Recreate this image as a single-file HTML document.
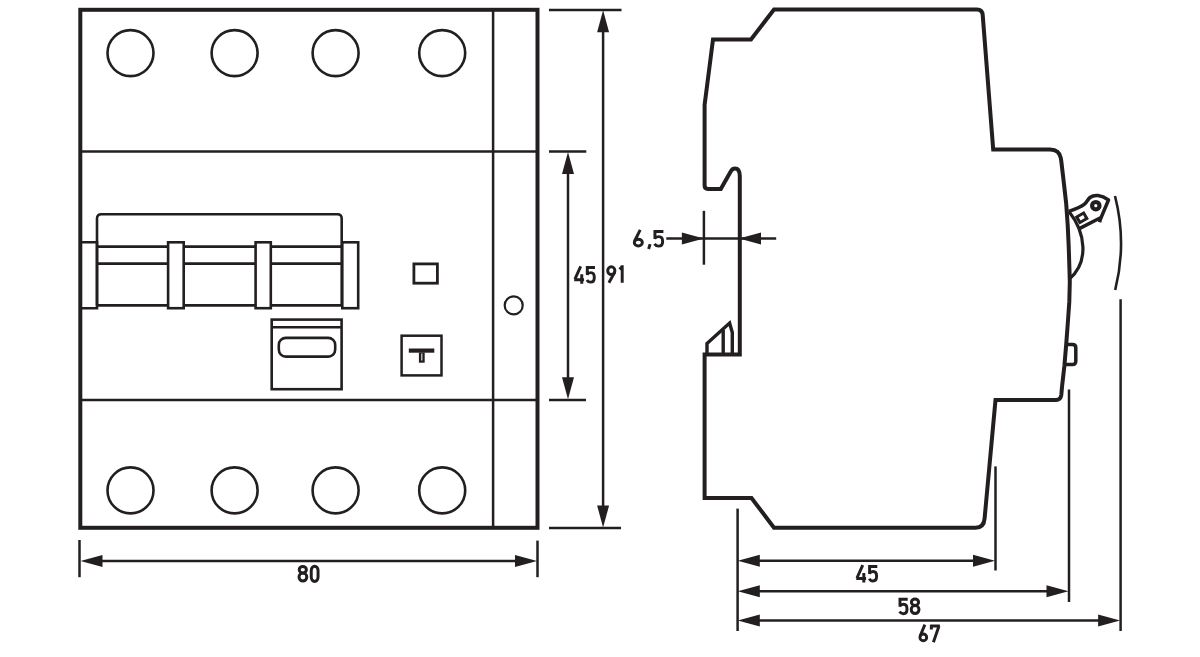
<!DOCTYPE html>
<html><head><meta charset="utf-8"><style>
html,body{margin:0;padding:0;background:#fff;width:1200px;height:657px;overflow:hidden}
svg{display:block} .gl *{vector-effect:non-scaling-stroke}
text{font-family:"Liberation Sans",sans-serif;font-weight:bold;fill:#231f20;stroke:none}
</style></head><body>
<svg width="1200" height="657" viewBox="0 0 1200 657">
<g fill="none" stroke="#231f20" stroke-linecap="butt">
<rect x="80.3" y="9.8" width="457.2" height="518" stroke-width="4"/>
<line x1="493.1" y1="10" x2="493.1" y2="527" stroke-width="2.5"/>
<line x1="80" y1="151.5" x2="537" y2="151.5" stroke-width="2.5"/>
<line x1="80" y1="400.1" x2="537" y2="400.1" stroke-width="2.5"/>
<circle cx="130.5" cy="53.1" r="23" stroke-width="2.6"/>
<circle cx="130.5" cy="490.4" r="23" stroke-width="2.6"/>
<circle cx="234.6" cy="53.1" r="23" stroke-width="2.6"/>
<circle cx="234.6" cy="490.4" r="23" stroke-width="2.6"/>
<circle cx="335.6" cy="53.1" r="23" stroke-width="2.6"/>
<circle cx="335.6" cy="490.4" r="23" stroke-width="2.6"/>
<circle cx="442.2" cy="53.1" r="23" stroke-width="2.6"/>
<circle cx="442.2" cy="490.4" r="23" stroke-width="2.6"/>
<path d="M97,305.4 V218.5 Q97,214.2 101.3,214.2 H337.4 Q341.7,214.2 341.7,218.5 V305.4" stroke-width="2.6"/>
<line x1="97" y1="246.6" x2="341.7" y2="246.6" stroke-width="2.6"/>
<line x1="97" y1="263.6" x2="341.7" y2="263.6" stroke-width="2.6"/>
<line x1="97" y1="305.4" x2="341.7" y2="305.4" stroke-width="2.6"/>
<path d="M80,242.3 H97 V308.2 H80" stroke-width="2.6"/>
<rect x="168.1" y="242.3" width="15.6" height="65.9" stroke-width="2.6" fill="#fff"/>
<rect x="255.6" y="242.3" width="15.2" height="65.9" stroke-width="2.6" fill="#fff"/>
<rect x="342.3" y="242.3" width="15.9" height="65.9" stroke-width="2.6" fill="#fff"/>
<rect x="271.7" y="319.6" width="69.9" height="69.6" stroke-width="2.6"/>
<line x1="271.7" y1="327.2" x2="341.6" y2="327.2" stroke-width="2.4"/>
<rect x="278.8" y="337.9" width="56.4" height="18.7" rx="7" stroke-width="2.6"/>
<rect x="413.9" y="263.9" width="23.5" height="19.3" stroke-width="2.8"/>
<rect x="401.6" y="335.7" width="39.9" height="39.7" stroke-width="2.5"/>
<rect x="408.8" y="348.5" width="25.5" height="4.2" fill="#231f20" stroke="none"/>
<rect x="418.9" y="352.5" width="5.8" height="10.2" fill="#231f20" stroke="none"/>
<line x1="421.8" y1="353.5" x2="421.8" y2="360.5" stroke="#ddd" stroke-width="1.2"/>
<circle cx="513.7" cy="305.4" r="9" stroke-width="2.2"/>
<line x1="549" y1="9.9" x2="621.5" y2="9.9" stroke-width="2.5"/>
<line x1="549" y1="528.1" x2="621" y2="528.1" stroke-width="2.5"/>
<line x1="603.1" y1="20" x2="603.1" y2="518" stroke-width="2.5"/>
<polygon fill="#231f20" stroke="none" points="603.1,10.3 597.1,32.3 609.1,32.3"/>
<polygon fill="#231f20" stroke="none" points="603.1,527.5 597.1,505.5 609.1,505.5"/>
<line x1="549" y1="151.4" x2="586.3" y2="151.4" stroke-width="2.5"/>
<line x1="549" y1="400" x2="586" y2="400" stroke-width="2.5"/>
<line x1="568" y1="160" x2="568" y2="390" stroke-width="2.5"/>
<polygon fill="#231f20" stroke="none" points="568.0,152.0 562.0,174.0 574.0,174.0"/>
<polygon fill="#231f20" stroke="none" points="568.0,399.2 562.0,377.2 574.0,377.2"/>
<g class="gl" transform="translate(573.0,266.0)" stroke-width="2.95"><path d="M7.7,0.3 L1.9,13.2 M1.2,13.65 H11.05 M8.75,8.2 V17.7"/></g>
<g class="gl" transform="translate(585.9,266.1)" stroke-width="2.95"><path d="M9.1,1.4 H1.4 V8.9 M1.1,8.6 C2.1,7.1 3.5,6.5 4.9,6.5 C7.3,6.5 8.4,8.6 8.4,11.3 C8.4,14.2 6.9,16.0 4.7,16.0 C3.0,16.0 1.8,15.1 1.0,13.8"/></g>
<g class="gl" transform="translate(606.6,265.4)" stroke-width="2.95"><ellipse cx="4.7" cy="5.3" rx="3.6" ry="3.9"/><path d="M8.2,6.6 L2.3,17.4"/></g>
<g class="gl" transform="translate(618.75,265.2)" stroke-width="2.95"><path d="M3.45,0 V17.6 M3.6,1.0 L0.9,4.3"/></g>
<line x1="79.5" y1="540" x2="79.5" y2="577.2" stroke-width="2.5"/>
<line x1="537.5" y1="540.6" x2="537.5" y2="577.2" stroke-width="2.5"/>
<line x1="90" y1="561" x2="527" y2="561" stroke-width="2.5"/>
<polygon fill="#231f20" stroke="none" points="80.5,561.0 102.5,555.0 102.5,567.0"/>
<polygon fill="#231f20" stroke="none" points="537.0,561.0 515.0,555.0 515.0,567.0"/>
<g class="gl" transform="translate(297.6,564.9)" stroke-width="2.95"><ellipse cx="5.2" cy="4.8" rx="3.6" ry="3.3"/><ellipse cx="5.3" cy="12.15" rx="3.9" ry="3.95"/></g>
<g class="gl" transform="translate(310.0,565.0)" stroke-width="2.95"><rect x="1.25" y="1.25" width="6.8" height="15.2" rx="3.4" ry="4.2"/></g>
<path d="M774,9.6 H977 Q982.2,9.6 982.7,15 L993.2,149.4 H1050 Q1059.5,149.6 1060.8,158 L1061.3,161.3 L1063.8,182.6 L1066.2,203.8 L1067.7,225.1 L1068.7,246.4 L1069.4,267.7 L1069.8,282 L1069.3,301.9 L1067.8,323.2 L1066.2,344.5 L1064.4,365.7 L1062.0,387 L1061.3,395 Q1060.6,400 1056,400 L995.5,400 L984.6,518.5 Q983.9,527.7 975.5,527.7 H774 L751.5,498 H704.6 V354.5 H739.8 V176 Q739.6,168.5 735,168.5 Q732.5,168.5 731,171 L720.8,189 H708 Q704.6,189 704.6,185.6 V105 L713,39.4 H751 Z" stroke-width="4.0" stroke-linejoin="miter"/>
<path d="M707,354.5 V343.6 L729.6,323 L732.3,332.5 V354.5" stroke-width="3.4"/>
<line x1="723.2" y1="330" x2="723.2" y2="354.5" stroke-width="3.4"/>
<path d="M1068.8,211.3 C1086,233 1089,262 1069.4,279" stroke-width="3.2"/>
<path d="M1068.8,211.3 C1074,209.5 1081,207 1084.5,204.1 C1087,202 1088,199 1090,197.5 C1094,194.5 1101,194.5 1108.5,200 L1100.3,219.5 L1099.6,222.2 M1100.5,217.8 L1079.8,228.4" stroke-width="3.5" stroke-linejoin="round"/>
<circle cx="1095.8" cy="205.7" r="3.7" stroke-width="4.2"/>
<rect x="-4" y="-3.2" width="8" height="6.4" transform="translate(1081.8,217.8) rotate(-30)" stroke-width="3"/>
<path d="M1115,196 Q1127,243 1115.2,290" stroke-width="2.6"/>
<path d="M1066.5,344.4 H1072.5 Q1075.8,344.4 1075.8,347.7 V361.3 Q1075.8,364.6 1072.5,364.6 H1065" stroke-width="3.5"/>
<line x1="703.9" y1="210.8" x2="703.9" y2="264.7" stroke-width="2.5"/>
<line x1="666.3" y1="238.6" x2="776.2" y2="238.6" stroke-width="2.5"/>
<polygon fill="#231f20" stroke="none" points="703.9,238.6 681.9,232.6 681.9,244.6"/>
<polygon fill="#231f20" stroke="none" points="739.0,238.6 761.0,232.6 761.0,244.6"/>
<g class="gl" transform="translate(633.1,229.6) scale(1.2,1.0)" stroke-width="2.95"><path d="M5.9,0.2 L1.3,11.4"/><circle cx="4.35" cy="13.0" r="3.35"/></g>
<g class="gl" transform="translate(648.1,244.1)" stroke-width="2.95"><path d="M2.0,0 L0.5,4.9"/></g>
<g class="gl" transform="translate(653.4,230.1) scale(1.1,1.0)" stroke-width="2.95"><path d="M9.1,1.4 H1.4 V8.9 M1.1,8.6 C2.1,7.1 3.5,6.5 4.9,6.5 C7.3,6.5 8.4,8.6 8.4,11.3 C8.4,14.2 6.9,16.0 4.7,16.0 C3.0,16.0 1.8,15.1 1.0,13.8"/></g>
<line x1="737.6" y1="508.6" x2="737.6" y2="631" stroke-width="2.5"/>
<line x1="995.5" y1="466.4" x2="995.5" y2="570.5" stroke-width="2.5"/>
<line x1="1069" y1="389.5" x2="1069" y2="602" stroke-width="2.5"/>
<line x1="1120.6" y1="299.2" x2="1120.6" y2="631" stroke-width="2.5"/>
<line x1="745" y1="560.7" x2="987.5" y2="560.7" stroke-width="2.5"/>
<polygon fill="#231f20" stroke="none" points="737.8,560.7 759.8,554.7 759.8,566.7"/>
<polygon fill="#231f20" stroke="none" points="995.0,560.7 973.0,554.7 973.0,566.7"/>
<line x1="745" y1="591.2" x2="1061" y2="591.2" stroke-width="2.5"/>
<polygon fill="#231f20" stroke="none" points="737.8,591.2 759.8,585.2 759.8,597.2"/>
<polygon fill="#231f20" stroke="none" points="1068.5,591.2 1046.5,585.2 1046.5,597.2"/>
<line x1="745" y1="620.6" x2="1112.6" y2="620.6" stroke-width="2.5"/>
<polygon fill="#231f20" stroke="none" points="737.8,620.6 759.8,614.6 759.8,626.6"/>
<polygon fill="#231f20" stroke="none" points="1120.1,620.6 1098.1,614.6 1098.1,626.6"/>
<g class="gl" transform="translate(855.05,564.8)" stroke-width="2.95"><path d="M7.7,0.3 L1.9,13.2 M1.2,13.65 H11.05 M8.75,8.2 V17.7"/></g>
<g class="gl" transform="translate(868.2,565.0)" stroke-width="2.95"><path d="M9.1,1.4 H1.4 V8.9 M1.1,8.6 C2.1,7.1 3.5,6.5 4.9,6.5 C7.3,6.5 8.4,8.6 8.4,11.3 C8.4,14.2 6.9,16.0 4.7,16.0 C3.0,16.0 1.8,15.1 1.0,13.8"/></g>
<g class="gl" transform="translate(898.6,597.8)" stroke-width="2.95"><path d="M9.1,1.4 H1.4 V8.9 M1.1,8.6 C2.1,7.1 3.5,6.5 4.9,6.5 C7.3,6.5 8.4,8.6 8.4,11.3 C8.4,14.2 6.9,16.0 4.7,16.0 C3.0,16.0 1.8,15.1 1.0,13.8"/></g>
<g class="gl" transform="translate(909.8,597.4)" stroke-width="2.95"><ellipse cx="5.2" cy="4.8" rx="3.6" ry="3.3"/><ellipse cx="5.3" cy="12.15" rx="3.9" ry="3.95"/></g>
<g class="gl" transform="translate(918.95,624.4)" stroke-width="2.95"><path d="M5.9,0.2 L1.3,11.4"/><circle cx="4.35" cy="13.0" r="3.35"/></g>
<g class="gl" transform="translate(930.4,624.8)" stroke-width="2.95"><path d="M0,1.2 H9.5 M0.95,0 V4.6 M8.6,1.2 L3.0,17.4"/></g>
</g></svg></body></html>
